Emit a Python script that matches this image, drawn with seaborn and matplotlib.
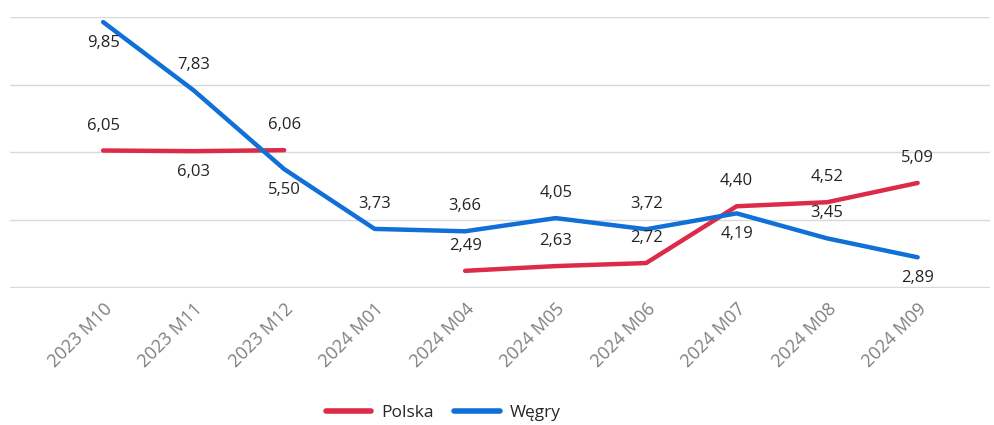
import numpy as np
import pandas as pd
import matplotlib.pyplot as plt
import seaborn as sns

MONTHS  = ["2023 M10", "2023 M11", "2023 M12", "2024 M01", "2024 M04",
           "2024 M05", "2024 M06", "2024 M07", "2024 M08", "2024 M09"]
POLSKA  = [6.05, 6.03, 6.06, np.nan, 2.49, 2.63, 2.72, 4.40, 4.52, 5.09]
WEGRY   = [9.85, 7.83, 5.50, 3.73, 3.66, 4.05, 3.72, 4.19, 3.45, 2.89]

# label side per point: 1 = above, -1 = below
POLSKA_SIDE = [1, -1, 1, 1, 1, 1, 1, 1, 1, 1]
WEGRY_SIDE  = [-1, 1, -1, 1, 1, 1, 1, -1, 1, -1]

RED  = "#DC2A48"
BLUE = "#1070D8"

sns.set_style("white")
plt.rcParams["font.family"] = ["Open Sans", "DejaVu Sans"]

df = pd.DataFrame({"month": MONTHS, "pos": range(len(MONTHS)),
                   "Polska": POLSKA, "Węgry": WEGRY})

fig = plt.figure(figsize=(9.94, 4.25), dpi=100)
ax = fig.add_axes([0.01, 0.323, 0.986, 0.637])

for name, color, side in [("Polska", RED, POLSKA_SIDE), ("Węgry", BLUE, WEGRY_SIDE)]:
    # draw contiguous runs separately so the gap stays a gap
    seg = df[name].isna().cumsum()
    for _, part in df[df[name].notna()].groupby(seg[df[name].notna()]):
        sns.lineplot(data=part, x="pos", y=name, color=color, linewidth=3.2,
                     ax=ax, legend=False, sort=False, estimator=None)
    for x, v, s in zip(df["pos"], df[name], side):
        if np.isnan(v):
            continue
        ax.annotate(f"{v:.2f}".replace(".", ","), (x, v),
                    xytext=(0, 25 if s > 0 else -21), textcoords="offset pixels",
                    ha="center", va="center", fontsize=12, color="#252423")

ax.set_xlim(-1.03, 9.8)
ax.set_ylim(1.99, 10)
ax.set_yticks([2, 4, 6, 8, 10])
ax.set_yticklabels([])
ax.tick_params(axis="y", length=0)
ax.grid(axis="y", color="#d9d9d9", linewidth=1)
ax.set_xticks(range(len(MONTHS)))
ax.set_xticklabels(MONTHS, rotation=45, ha="right", rotation_mode="anchor",
                   color="#7f7f7f", fontsize=13)
ax.tick_params(axis="x", length=0, pad=9)
ax.set_xlabel("")
ax.set_ylabel("")
sns.despine(ax=ax, left=True, bottom=True)

handles = [plt.Line2D([], [], color=RED, linewidth=4),
           plt.Line2D([], [], color=BLUE, linewidth=4)]
fig.legend(handles, ["Polska", "Węgry"], loc="center", bbox_to_anchor=(0.446, 0.028),
           ncol=2, frameon=False, fontsize=12.5, handlelength=2.6, columnspacing=1.2,
           handletextpad=0.6)

fig.savefig("out.png", dpi=100)
